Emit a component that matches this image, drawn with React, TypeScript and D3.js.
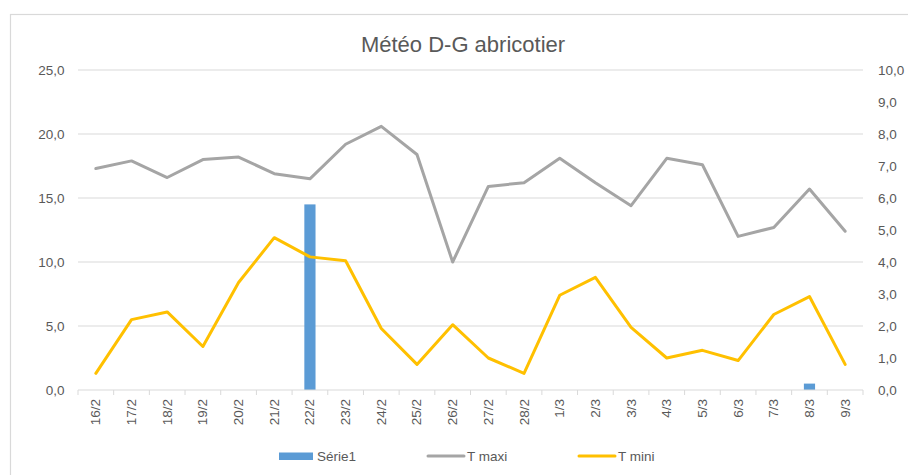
import React from "react";
import * as d3 from "d3";

const categories = ["16/2","17/2","18/2","19/2","20/2","21/2","22/2","23/2","24/2","25/2","26/2","27/2","28/2","1/3","2/3","3/3","4/3","5/3","6/3","7/3","8/3","9/3"];
const serie1 = [0,0,0,0,0,0,14.5,0,0,0,0,0,0,0,0,0,0,0,0,0,0.5,0];
const tMaxi = [17.3,17.9,16.6,18.0,18.2,16.9,16.5,19.2,20.6,18.4,10.0,15.9,16.2,18.1,16.2,14.4,18.1,17.6,12.0,12.7,15.7,12.4];
const tMini = [1.3,5.5,6.1,3.4,8.4,11.9,10.4,10.1,4.8,2.0,5.1,2.5,1.3,7.4,8.8,4.9,2.5,3.1,2.3,5.9,7.3,2.0];
const leftTicks = [0,5,10,15,20,25];
const rightTicks = [0,1,2,3,4,5,6,7,8,9,10];

const W = 908, H = 475;
const FONT = "'Liberation Sans', Arial, sans-serif";
const TXT = "#595959";

export default function App() {
  const x = d3.scaleBand<string>().domain(categories).range([78, 863]).paddingInner(0).paddingOuter(0);
  const y = d3.scaleLinear().domain([0, 25]).range([390, 70]);
  const y2 = d3.scaleLinear().domain([0, 10]).range([390, 70]);
  const bw = x.bandwidth();
  const barW = bw / 3.19;
  const cx = (c: string) => (x(c) as number) + bw / 2;
  const line = d3.line<number>().x((_, i) => cx(categories[i])).y((d) => y(d));
  const fmt = (v: number) => v.toFixed(1).replace(".", ",");

  return (
    <svg width={W} height={H} style={{ position: "absolute", left: 0, top: 0 }} fontFamily={FONT}>
      <rect x={0} y={0} width={W} height={H} fill="#fff" />
      <rect x={10.5} y={14.5} width={W + 10} height={H + 10} fill="none" stroke="#D9D9D9" strokeWidth={1.2} />
      <text x={463} y={52} textAnchor="middle" fontSize={22} fill={TXT}>Météo D-G abricotier</text>
      {leftTicks.map((t) => (
        <g key={"l" + t}>
          {t > 0 && <line x1={78} x2={863} y1={y(t)} y2={y(t)} stroke="#D9D9D9" strokeWidth={1} />}
          <text x={64.5} y={y(t)} dy="0.35em" textAnchor="end" fontSize={13.5} fill={TXT}>{fmt(t)}</text>
        </g>
      ))}
      {rightTicks.map((t) => (
        <text key={"r" + t} x={878} y={y2(t)} dy="0.35em" textAnchor="start" fontSize={13.5} fill={TXT}>{fmt(t)}</text>
      ))}
      {serie1.map((v, i) => v > 0 && (
        <rect key={"b" + i} x={cx(categories[i]) - barW / 2} y={y(v)} width={barW} height={y(0) - y(v)} fill="#5B9BD5" />
      ))}
      <line x1={78} x2={863} y1={390} y2={390} stroke="#D9D9D9" strokeWidth={1} />
      {categories.concat([""]).map((c, i) => {
        const xx = 78 + i * bw;
        return <line key={"t" + i} x1={xx} x2={xx} y1={390} y2={395} stroke="#D9D9D9" strokeWidth={1} />;
      })}
      <path d={line(tMaxi) || ""} fill="none" stroke="#A5A5A5" strokeWidth={3} strokeLinejoin="round" strokeLinecap="round" />
      <path d={line(tMini) || ""} fill="none" stroke="#FFC000" strokeWidth={3} strokeLinejoin="round" strokeLinecap="round" />
      {categories.map((c) => (
        <text key={"x" + c} transform={`translate(${cx(c)},399) rotate(-90)`} textAnchor="end" dominantBaseline="central" fontSize={13.5} fill={TXT}>{c}</text>
      ))}
      <rect x={279} y={452.5} width={34} height={7.5} fill="#5B9BD5" />
      <text x={317} y={461} fontSize={13.5} fill={TXT}>Série1</text>
      <line x1={428} x2={464} y1={456} y2={456} stroke="#A5A5A5" strokeWidth={3} strokeLinecap="round" />
      <text x={467} y={461} fontSize={13.5} fill={TXT}>T maxi</text>
      <line x1={579} x2={615} y1={456} y2={456} stroke="#FFC000" strokeWidth={3} strokeLinecap="round" />
      <text x={618} y={461} fontSize={13.5} fill={TXT}>T mini</text>
    </svg>
  );
}
